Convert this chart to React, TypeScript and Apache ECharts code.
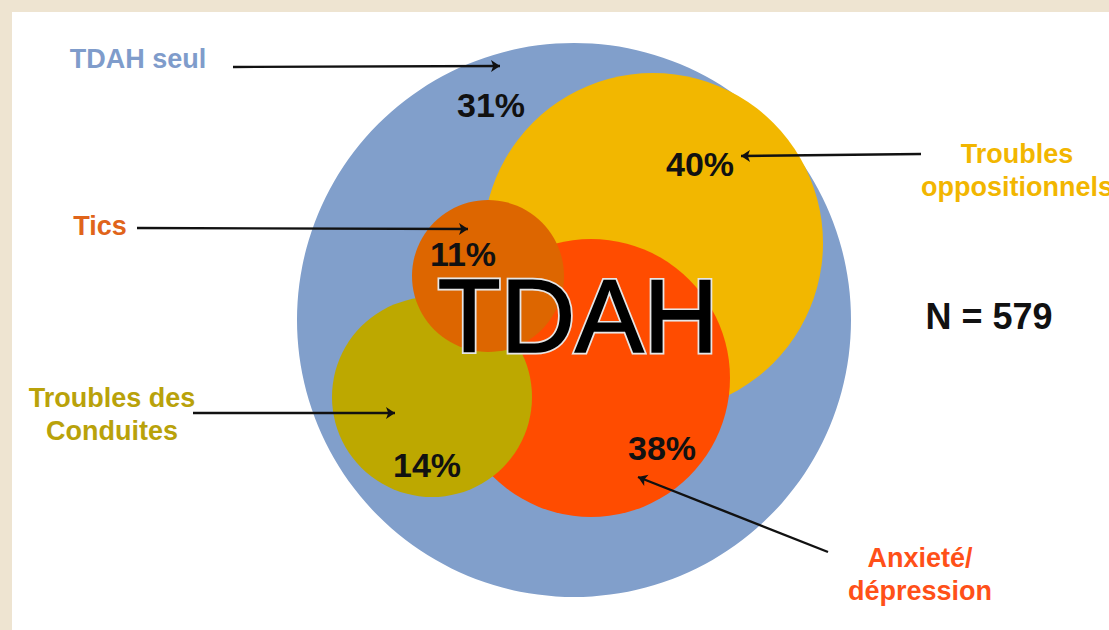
import React, { useEffect, useRef } from "react";
import * as echarts from "echarts";

// ---- data ----
const groups = ["TDAH seul", "Troubles oppositionnels", "Anxieté/dépression", "Troubles des Conduites", "Tics"];
const percents = [31, 40, 38, 14, 11];
const sampleSize = 579;
const centerWord = "TDAH";
const labelTexts = ["TDAH seul", "Troubles\noppositionnels", "Anxieté/\ndépression", "Troubles des\nConduites", "Tics"];

// ---- layout (diagram coordinates) ----
const circleX = [574, 653, 591, 432, 488];
const circleY = [320, 243, 378, 397, 276];
const circleR = [277, 170, 139, 100, 76];
const pctX = [491, 700, 662, 427, 463];
const pctY = [105, 164, 448, 465, 254];
const labelX = [138, 1017, 920, 112, 100];
const labelY = [59, 170, 574, 414, 226];
const arrowFrom = [[233, 67], [921, 154], [828, 552], [193, 413], [137, 228]];
const arrowTo = [[500, 66], [741, 156], [638, 477], [395, 413], [468, 229]];
const centerWordPos = [578, 316];
const nPos = [989, 316];

// ---- styles ----
const circleColors = ["#819FCB", "#F2B700", "#FF4C00", "#BDA800", "#DD6600"];
const labelColors = ["#7F9CCB", "#F2B600", "#FF5018", "#B9A20A", "#E0641A"];
const FONT = "'Liberation Sans', Arial, sans-serif";

export default function App() {
  const ref = useRef<HTMLDivElement>(null);
  useEffect(() => {
    if (!ref.current) return;
    const chart = echarts.init(ref.current, undefined, { renderer: "svg" });

    const texts: any[] = [];
    percents.forEach((p, i) =>
      texts.push({ x: pctX[i], y: pctY[i], text: p + "%", size: 34, weight: "bold", color: "#111", lh: 36 })
    );
    labelTexts.forEach((t, i) =>
      texts.push({ x: labelX[i], y: labelY[i], text: t, size: 27, weight: "bold", color: labelColors[i], lh: 33 })
    );
    texts.push({ x: nPos[0], y: nPos[1], text: "N = " + sampleSize, size: 36, weight: "bold", color: "#111", lh: 40 });

    const wordStyle = (c: number[], extra: any) => ({
      x: c[0],
      y: c[1],
      text: centerWord,
      align: "center",
      verticalAlign: "middle",
      fontSize: 103,
      fontFamily: FONT,
      ...extra,
    });

    chart.setOption({
      animation: false,
      backgroundColor: "#EEE4D1",
      grid: { left: 12, top: 12, right: 0, bottom: 0, show: true, backgroundColor: "#FFFFFF", borderWidth: 0 },
      xAxis: { type: "value", min: 12, max: 1109, show: false },
      yAxis: { type: "value", min: 12, max: 630, inverse: true, show: false },
      series: [
        {
          type: "custom",
          name: "circles",
          clip: false,
          encode: { x: 0, y: 1 },
          data: groups.map((g, i) => ({ name: g, value: [circleX[i], circleY[i], circleR[i], percents[i]] })),
          renderItem: (params: any, api: any) => {
            const c = api.coord([api.value(0), api.value(1)]);
            const r = api.size([api.value(2), 0])[0];
            return {
              type: "circle",
              shape: { cx: c[0], cy: c[1], r },
              style: { fill: circleColors[params.dataIndex] },
            };
          },
          z: 1,
        },
        {
          type: "custom",
          name: "center",
          clip: false,
          encode: { x: 0, y: 1 },
          data: [[centerWordPos[0], centerWordPos[1]]],
          renderItem: (params: any, api: any) => {
            const c = api.coord([api.value(0), api.value(1)]);
            return {
              type: "group",
              children: [
                { type: "text", style: wordStyle(c, { fill: "#000", stroke: "#E6E6E6", lineWidth: 5 }) },
                { type: "text", style: wordStyle(c, { fill: "#000", stroke: "#000", lineWidth: 1.6 }) },
              ],
            };
          },
          z: 3,
        },
        {
          type: "lines",
          coordinateSystem: "cartesian2d",
          symbol: ["none", "arrow"],
          symbolSize: [0, 9],
          lineStyle: { color: "#111", width: 2.4, opacity: 1 },
          data: arrowFrom.map((f, i) => ({ coords: [f, arrowTo[i]] })),
          z: 4,
        },
        {
          type: "custom",
          name: "texts",
          clip: false,
          encode: { x: 0, y: 1 },
          data: texts.map((t) => [t.x, t.y]),
          renderItem: (params: any, api: any) => {
            const t = texts[params.dataIndex];
            const c = api.coord([api.value(0), api.value(1)]);
            return {
              type: "text",
              style: {
                x: c[0],
                y: c[1],
                text: t.text,
                align: "center",
                verticalAlign: "middle",
                fontSize: t.size,
                fontWeight: t.weight,
                fontFamily: FONT,
                lineHeight: t.lh,
                fill: t.color,
              },
            };
          },
          z: 5,
        },
      ],
    });
    return () => chart.dispose();
  }, []);
  return <div ref={ref} style={{ position: "fixed", left: 0, top: 0, width: 1109, height: 630 }} />;
}
